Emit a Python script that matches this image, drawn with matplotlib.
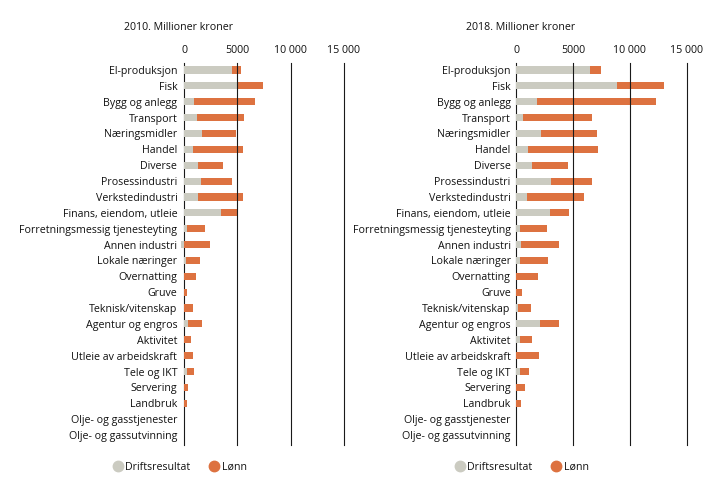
#!/usr/bin/python
# -*- coding: utf-8 -*-

import numpy as np
import matplotlib.pyplot as plt
from matplotlib.lines import Line2D

###############################################################################
# Data (millioner kroner)
###############################################################################
categories = [
    'El-produksjon', 'Fisk', 'Bygg og anlegg', 'Transport', 'Næringsmidler',
    'Handel', 'Diverse', 'Prosessindustri', 'Verkstedindustri',
    'Finans, eiendom, utleie', 'Forretningsmessig tjenesteyting',
    'Annen industri', 'Lokale næringer', 'Overnatting', 'Gruve',
    'Teknisk/vitenskap', 'Agentur og engros', 'Aktivitet',
    'Utleie av arbeidskraft', 'Tele og IKT', 'Servering', 'Landbruk',
    'Olje- og gasstjenester', 'Olje- og gassutvinning'
]
drift_2010 = [4500, 5000, 920, 1180, 1680, 830, 1300, 1590, 1300, 3490, 260,
              -300, 160, 0, 0, 0, 350, 0, 0, 260, 0, 0, 0, 0]
lonn_2010 = [800, 2400, 5700, 4400, 3200, 4650, 2380, 2940, 4180, 1510, 1700,
             2440, 1330, 1100, 250, 800, 1330, 640, 800, 670, 350, 260, 0, 0]
drift_2018 = [6490, 8860, 1820, 590, 2170, 1030, 1380, 3050, 940, 2960, 300,
              410, 300, 0, 0, 120, 2060, 300, 0, 300, 0, 0, 0, 0]
lonn_2018 = [970, 4140, 10480, 6070, 4930, 6160, 3170, 3610, 5020, 1680, 2380,
             3350, 2490, 1910, 470, 1150, 1700, 1080, 2000, 820, 740, 410, 0, 0]
titles = ['2010. Millioner kroner', '2018. Millioner kroner']
xticks = [0, 5000, 10000, 15000]
xticklabels = ['0', '5000', '10 000', '15 000']

###############################################################################
# Style
###############################################################################
(GRAY, ORANGE, LINE, TXT) = ('#cbcbc1', '#dd7240', '#1a1a1a', '#111111')
plt.rcParams['font.family'] = ['Open Sans', 'DejaVu Sans']
plt.rcParams['font.size'] = 7.7

fig = plt.figure(figsize=(7.19, 4.92), dpi=100)
W, H = 719, 492
panels = [
    (184.3, 343.7, 179, drift_2010, lonn_2010),
    (516.3, 686.7, 521, drift_2018, lonn_2018),
]
ypos = np.arange(len(categories))

###############################################################################
# Panels
###############################################################################
for (i, (x0, x1, xc, drift, lonn)) in enumerate(panels):
    ax = fig.add_axes([x0 / W, 1 - 445 / H, (x1 - x0) / W, (445 - 63) / H])
    drift = np.array(drift)
    lonn = np.array(lonn)
    base = np.where(drift > 0, drift, 0)
    ax.barh(ypos, drift, height=0.45, color=GRAY, clip_on=False, zorder=1)
    ax.barh(ypos, lonn, left=base, height=0.45, color=ORANGE,
            clip_on=False, zorder=1)
    ax.set_xlim(0, 15000)
    ax.set_ylim(23.63, -0.44)
    ax.set_yticks(ypos)
    ax.set_yticklabels(categories)
    ax.set_xticks(xticks)
    ax.set_xticklabels(xticklabels)
    ax.xaxis.tick_top()
    ax.tick_params(axis='both', length=0, colors=TXT)
    ax.tick_params(axis='x', pad=5)
    ax.tick_params(axis='y', pad=5 if i == 0 else 4)
    for s in ['top', 'right', 'bottom']:
        ax.spines[s].set_visible(False)
    ax.spines['left'].set_color(LINE)
    ax.spines['left'].set_linewidth(0.8)
    ax.spines['left'].set_zorder(0.5)
    for xv in xticks[1:]:
        ax.axvline(xv, color=LINE, lw=0.8, zorder=3, clip_on=False)
    fig.text(xc / W, 1 - 27 / H, titles[i], ha='center', va='center',
             fontsize=7.7, color=TXT)
    handles = [
        Line2D([], [], marker='o', ls='', ms=7.5, color=GRAY),
        Line2D([], [], marker='o', ls='', ms=7.5, color=ORANGE),
    ]
    fig.legend(handles, ['Driftsresultat', 'Lønn'], loc='center',
               bbox_to_anchor=(xc / W, 1 - 467 / H), ncol=2, frameon=False,
               handletextpad=0.1, columnspacing=1.6, handlelength=1.2,
               fontsize=7.7, labelcolor=TXT)

fig.savefig('out.png', dpi=100)
